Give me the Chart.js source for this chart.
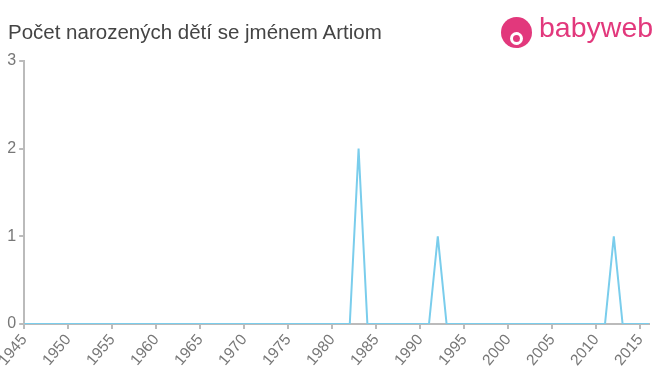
<!DOCTYPE html>
<html>
<head>
<meta charset="utf-8">
<script src="https://cdn.jsdelivr.net/npm/chart.js@4/dist/chart.umd.min.js"></script>
<style>
  body { margin: 0; background: #fff; }
  #wrap { position: relative; width: 660px; height: 375px; }
  #title { position: absolute; left: 8px; top: 20px; font: 20.5px "Liberation Sans", Arial, sans-serif; color: #444; }
  #logo { position: absolute; left: 501px; top: 16px; height: 34px; }
  #logo .dot { position: absolute; left: 0; top: 1px; width: 31px; height: 31px; border-radius: 50%; background: #e2387c; }
  #logo .face { position: absolute; left: 9px; top: 16px; width: 13px; height: 13px; border-radius: 50%; background: #fff; }
  #logo .nose { position: absolute; left: 12px; top: 19px; width: 7px; height: 7px; border-radius: 50%; background: #e2387c; }
  #logo .txt { position: absolute; left: 38px; top: -5px; font: 28.5px "Liberation Sans", Arial, sans-serif; color: #e2387c; }
  canvas { position: absolute; left: 0; top: 0; }
</style>
</head>
<body>
<div id="wrap">
  <canvas id="c" width="660" height="375"></canvas>
  <div id="title">Počet narozených dětí se jménem Artiom</div>
  <div id="logo"><div class="dot"></div><div class="face"></div><div class="nose"></div><div class="txt">babyweb</div></div>
</div>
<script>
// data
const years = [];
for (let y = 1945; y <= 2016; y++) years.push(y);
const peakYears = [1983, 1992, 2012];
const peakCounts = [2, 1, 1];
const xTicks = [1945, 1950, 1955, 1960, 1965, 1970, 1975, 1980, 1985, 1990, 1995, 2000, 2005, 2010, 2015];
const yTicks = [0, 1, 2, 3];

const counts = years.map(y => {
  const i = peakYears.indexOf(y);
  return i >= 0 ? peakCounts[i] : 0;
});
const points = years.map((y, i) => ({ x: y, y: counts[i] }));

const axisGray = '#bbbbbb';
const labelGray = '#777777';

new Chart(document.getElementById('c'), {
  type: 'line',
  data: {
    datasets: [{
      data: points,
      borderColor: 'rgb(122,205,236)',
      borderWidth: 2,
      pointRadius: 0,
      tension: 0,
      fill: false
    }]
  },
  options: {
    responsive: false,
    animation: false,
    layout: { padding: { top: 61, right: 11, left: 0, bottom: 0 } },
    plugins: { legend: { display: false }, tooltip: { enabled: false } },
    scales: {
      x: {
        type: 'linear',
        min: 1945,
        max: 2016,
        afterBuildTicks: s => { s.ticks = xTicks.map(v => ({ value: v })); },
        afterFit: s => { s.height = 51; },
        border: { color: axisGray, width: 2 },
        grid: { drawOnChartArea: false, color: axisGray, tickLength: 5, lineWidth: 2 },
        ticks: {
          minRotation: 50, maxRotation: 50,
          color: labelGray,
          font: { family: 'Liberation Sans, Arial', size: 15.5 },
          padding: 2,
          callback: v => String(v)
        }
      },
      y: {
        min: 0,
        max: 3,
        afterBuildTicks: s => { s.ticks = yTicks.map(v => ({ value: v })); },
        afterFit: s => { s.width = 24; },
        border: { color: axisGray, width: 2 },
        grid: { drawOnChartArea: false, color: axisGray, tickLength: 5, lineWidth: 2 },
        ticks: {
          color: labelGray,
          font: { family: 'Liberation Sans, Arial', size: 16 },
          padding: 3
        }
      }
    }
  }
});
</script>
</body>
</html>
